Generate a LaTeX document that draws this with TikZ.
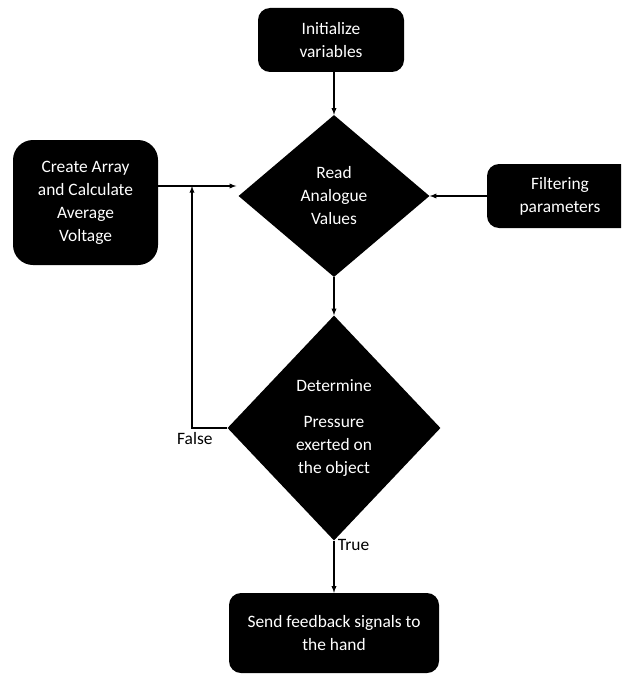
\documentclass[tikz,border=0pt]{standalone}
\usepackage{fontspec}
\setmainfont{Carlito}
\usepackage{tikz}
\usetikzlibrary{shapes,arrows}

\tikzset{
  box/.style={fill=black, text=white, align=center, rounded corners=12pt,
    minimum width=146pt, minimum height=64pt, inner sep=0pt},
  decision/.style={diamond, fill=black, text=white, align=center, inner sep=0pt},
  flow/.style={draw, line width=1.3pt, -latex},
}

\begin{document}
\begin{tikzpicture}[x=1pt, y=-1pt, font=\fontsize{17.4}{23}\selectfont]
      % page frame
      \useasboundingbox (0,0) rectangle (621,674);
      \clip (0,0) rectangle (621,674);

      % Boxes
      \node[box] (init) at (331,40) {Initialize\\variables};
      \node[box, minimum width=145pt, minimum height=125pt, rounded corners=20pt] (create) at (85.5,202.5) {Create Array\\and Calculate\\Average\\Voltage};
      \node[box] (filter) at (560,196) {Filtering\\parameters};
      \node[box, minimum width=210pt, minimum height=80pt] (send) at (334,633) {Send feedback signals to\\the hand};

      % Decisions
      \node[decision, minimum width=191pt, minimum height=162pt] (read) at (334,196) {Read\\Analogue\\Values};
      \node[decision, minimum width=213pt, minimum height=225pt] (decide) at (334,428) {Determine\\[13pt]Pressure\\exerted on\\the object};

      % Connectors
      \coordinate (join) at (192,186);
      \draw[flow] (init.south -| read.north) -- (read.north);
      \draw[flow] (filter.west) -- (read.east);
      \draw[flow, shorten >=2pt] (create.east |- join) -- (join -| read.west);
      \draw[flow] (read.south) -- (decide.north);
      \draw[flow] (decide.west) -| node[pos=0.46, below] {False} (join);
      \draw[flow] (decide.south) -- node[pos=0.05, right, yshift=-2pt] {True} (send.north);
\end{tikzpicture}
\end{document}
